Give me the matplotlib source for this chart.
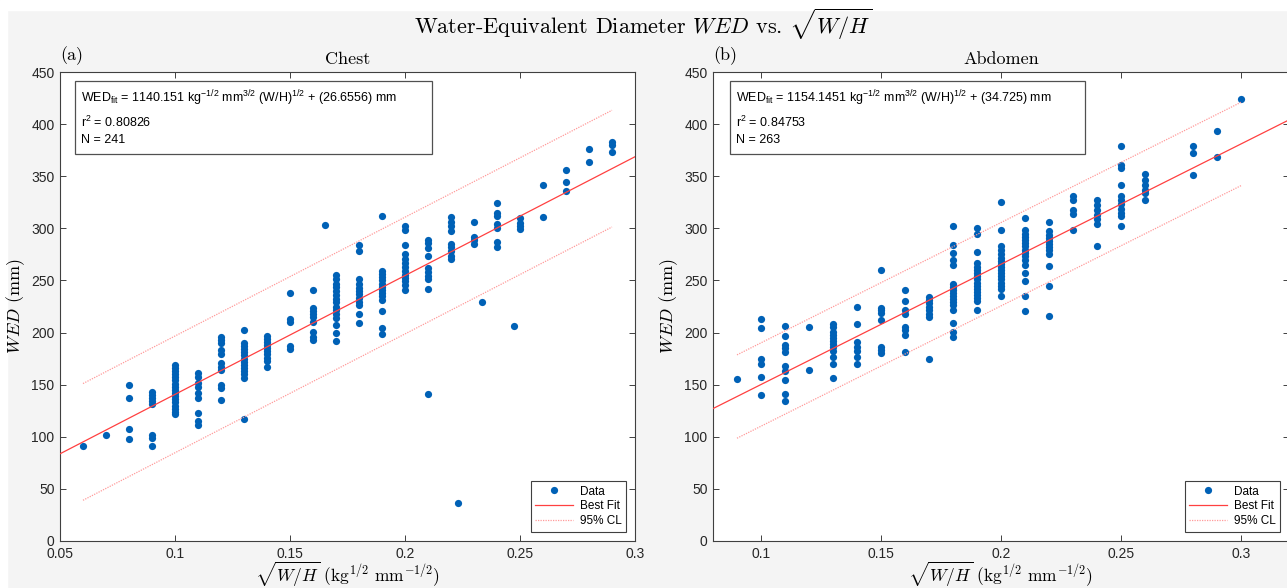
import numpy as np
import matplotlib
matplotlib.use("Agg")
import matplotlib.pyplot as plt
from matplotlib.lines import Line2D
from matplotlib.patches import Rectangle
from matplotlib.ticker import FuncFormatter

plt.rcParams['font.family'] = ['Liberation Sans', 'DejaVu Sans']
plt.rcParams['mathtext.fontset'] = 'custom'
plt.rcParams['mathtext.rm'] = 'Liberation Sans'
plt.rcParams['mathtext.it'] = 'Liberation Sans:italic'
plt.rcParams['mathtext.bf'] = 'Liberation Sans:bold'

# ---- data ----
chest_cols = [0.06, 0.07, 0.08, 0.09, 0.10, 0.11, 0.12, 0.13, 0.14, 0.15, 0.16, 0.17,
              0.18, 0.19, 0.20, 0.21, 0.22, 0.23, 0.24, 0.25, 0.26, 0.27, 0.28, 0.29]
chest_vals = [
    [91],
    [102],
    [150, 137, 107, 98],
    [143, 140, 137, 134, 131, 102, 99, 91],
    [169, 166, 163, 160, 157, 154, 151, 148, 145, 142, 139, 136, 133, 130, 127, 124, 122],
    [161, 157, 152, 148, 142, 137, 123, 115, 111],
    [196, 193, 190, 183, 179, 171, 167, 164, 150, 147, 135],
    [202, 190, 187, 184, 181, 178, 175, 172, 169, 166, 163, 160, 156, 117],
    [197, 194, 191, 188, 185, 182, 179, 176, 173, 167],
    [238, 213, 210, 187, 184],
    [241, 224, 221, 218, 215, 210, 201, 196, 193],
    [255, 251, 247, 244, 240, 236, 232, 229, 225, 222, 218, 214, 207, 200, 192],
    [284, 278, 251, 247, 243, 240, 237, 233, 229, 226, 218, 209],
    [312, 259, 256, 253, 250, 247, 244, 241, 238, 235, 231, 221, 204, 199],
    [302, 298, 284, 275, 271, 267, 263, 259, 255, 252, 249, 246, 241],
    [289, 286, 281, 273, 262, 258, 254, 251, 242, 141],
    [311, 306, 302, 297, 285, 282, 278, 273, 271],
    [306, 292, 289, 285],
    [324, 315, 312, 304, 300, 287, 282],
    [310, 305, 302, 299],
    [342, 311],
    [356, 344, 336],
    [376, 364],
    [383, 380, 373],
]
chest_extra_x = [0.165, 0.223, 0.2335, 0.2474]
chest_extra_y = [303, 36, 229, 206]

abd_cols = [0.09, 0.10, 0.11, 0.12, 0.13, 0.14, 0.15, 0.16, 0.17, 0.18, 0.19, 0.20,
            0.21, 0.22, 0.23, 0.24, 0.25, 0.26, 0.28, 0.29, 0.30]
abd_vals = [
    [155],
    [213, 204, 175, 170, 157, 140],
    [206, 197, 188, 185, 181, 168, 163, 154, 141, 134],
    [205, 164],
    [208, 205, 201, 198, 195, 192, 189, 186, 182, 177, 170, 156],
    [225, 208, 191, 186, 182, 177, 170],
    [260, 224, 222, 219, 212, 186, 183, 180],
    [241, 230, 222, 218, 205, 202, 198, 181],
    [234, 231, 228, 225, 222, 218, 215, 175],
    [302, 284, 276, 270, 265, 247, 244, 241, 238, 235, 232, 229, 226, 222, 209, 201, 196],
    [300, 295, 277, 267, 263, 260, 257, 254, 251, 248, 245, 242, 239, 236, 233, 230, 222],
    [325, 298, 283, 279, 275, 272, 269, 266, 263, 260, 257, 254, 251, 248, 245, 242, 235],
    [310, 298, 295, 292, 289, 286, 283, 279, 276, 273, 270, 265, 257, 249, 235, 221],
    [306, 297, 294, 291, 288, 285, 282, 279, 275, 264, 245, 216],
    [331, 327, 318, 314, 298],
    [327, 322, 318, 313, 309, 304, 283],
    [379, 361, 358, 342, 331, 327, 323, 319, 315, 312, 302],
    [352, 346, 342, 337, 334, 327],
    [379, 372, 351],
    [393, 368],
    [424],
]

slopes = [1140.151, 1154.1451]
intercepts = [26.6556, 34.725]
r2 = [0.80826, 0.84753]
n_pts = [241, 263]
cl_half = [56, 40]
panel_titles = ['Chest', 'Abdomen']
panel_tags = ['(a)', '(b)']
xlims = [(0.05, 0.3), (0.08, 0.32)]
xticks = [[0.05, 0.1, 0.15, 0.2, 0.25, 0.3], [0.1, 0.15, 0.2, 0.25, 0.3]]
yticks = list(range(0, 451, 50))


def flatten(cols, vals, ex_x=(), ex_y=()):
    xs, ys = [], []
    for c, v in zip(cols, vals):
        xs += [c] * len(v)
        ys += v
    return np.array(xs + list(ex_x)), np.array(ys + list(ex_y), dtype=float)


data = [flatten(chest_cols, chest_vals, chest_extra_x, chest_extra_y),
        flatten(abd_cols, abd_vals)]

W, H = 1287, 588
fig = plt.figure(figsize=(W / 100, H / 100), dpi=100, facecolor='#f4f4f4')
fig.patches.append(Rectangle((0, 1 - 10 / H), 1, 10 / H, transform=fig.transFigure,
                             color='white', zorder=-5))
fig.patches.append(Rectangle((0, 0), 7 / W, 1, transform=fig.transFigure,
                             color='white', zorder=-5))

serif = dict(fontfamily='cmr10', math_fontfamily='cm')
fig.text(0.5, 1 - 24 / H, r'Water-Equivalent Diameter $WED$ vs. $\sqrt{W/H}$',
         ha='center', va='center', fontsize=16, **serif)

blue = '#0061b6'
fit_col = '#ff4040'
cl_col = '#ff9a9a'
axes_px = [(60, 635), (713, 1289)]
box_px = [(75, 432), (730, 1085)]

for i in range(2):
    x0, x1 = axes_px[i]
    ax = fig.add_axes([x0 / W, (H - 541) / H, (x1 - x0) / W, 469 / H])
    ax.set_facecolor('white')
    xs, ys = data[i]
    ax.plot(xs, ys, 'o', color=blue, markersize=5.2, markeredgewidth=0, zorder=3)

    xl = np.array(xlims[i])
    ax.plot(xl, slopes[i] * xl + intercepts[i], color=fit_col, lw=0.9, zorder=4)
    xr = np.array([xs.min(), xs.max()])
    yfit = slopes[i] * xr + intercepts[i]
    ax.plot(xr, yfit + cl_half[i], color=cl_col, lw=0.9, ls=(0, (1, 1)), zorder=4)
    ax.plot(xr, yfit - cl_half[i], color=cl_col, lw=0.9, ls=(0, (1, 1)), zorder=4)

    ax.set_xlim(*xlims[i])
    ax.set_ylim(0, 450)
    ax.set_xticks(xticks[i])
    ax.set_yticks(yticks)
    ax.xaxis.set_major_formatter(FuncFormatter(lambda v, p: '%g' % v))
    ax.yaxis.set_major_formatter(FuncFormatter(lambda v, p: '%g' % v))
    ax.tick_params(direction='in', length=4, width=0.7, color='#404040',
                   labelsize=10, labelcolor='#262626', top=True, right=True)
    ax.tick_params(axis='x', pad=4.5)
    ax.tick_params(axis='y', pad=4)
    for s in ax.spines.values():
        s.set_color('#404040')
        s.set_linewidth(0.8)

    ax.set_title(panel_titles[i], fontsize=13, pad=6, **serif)
    ax.text(0.0, 1.014, panel_tags[i], transform=ax.transAxes, ha='left', va='bottom',
            fontsize=13, **serif)
    ax.set_ylabel(r'$WED$ (mm)', fontsize=13, labelpad=3, **serif)
    ax.set_xlabel(r'$\sqrt{W/H}$ (kg$^{1/2}$ mm$^{-1/2}$)', fontsize=12.5, labelpad=-1, **serif)

    # fit info box
    bx0, bx1 = box_px[i]
    w_ax = x1 - x0
    bl = (bx0 - x0) / w_ax
    bw = (bx1 - bx0) / w_ax
    ax.add_patch(Rectangle((bl, (541 - 154) / 469), bw, 73 / 469, transform=ax.transAxes,
                           facecolor='white', edgecolor='#505050', lw=0.9, zorder=5))
    tx = bl + 6 / w_ax
    ax.text(tx, (541 - 98) / 469,
            r'WED$_{\rm fit}$ = %s kg$^{-1/2}$ mm$^{3/2}$ (W/H)$^{1/2}$ + (%s) mm'
            % (repr(slopes[i]), repr(intercepts[i])),
            transform=ax.transAxes, va='center', ha='left', fontsize=9, zorder=6)
    ax.text(tx, (541 - 122) / 469, r'r$^2$ = %s' % repr(r2[i]),
            transform=ax.transAxes, va='center', ha='left', fontsize=9, zorder=6)
    ax.text(tx, (541 - 140) / 469, 'N = %d' % n_pts[i],
            transform=ax.transAxes, va='center', ha='left', fontsize=9, zorder=6)

    handles = [Line2D([], [], marker='o', ls='none', color=blue, markersize=5.2,
                      markeredgewidth=0),
               Line2D([], [], color=fit_col, lw=0.9),
               Line2D([], [], color=cl_col, lw=0.9, ls=(0, (1, 1)))]
    leg = ax.legend(handles, ['Data', 'Best Fit', '95% CL'], loc='lower right',
                    fontsize=8.5, fancybox=False, framealpha=1, edgecolor='#404040',
                    handlelength=3.2, labelspacing=0.25, borderaxespad=0.8,
                    borderpad=0.35, handletextpad=0.6)
    leg.get_frame().set_linewidth(0.8)
    leg.set_zorder(7)

fig.savefig('out.png', dpi=100, facecolor=fig.get_facecolor())
